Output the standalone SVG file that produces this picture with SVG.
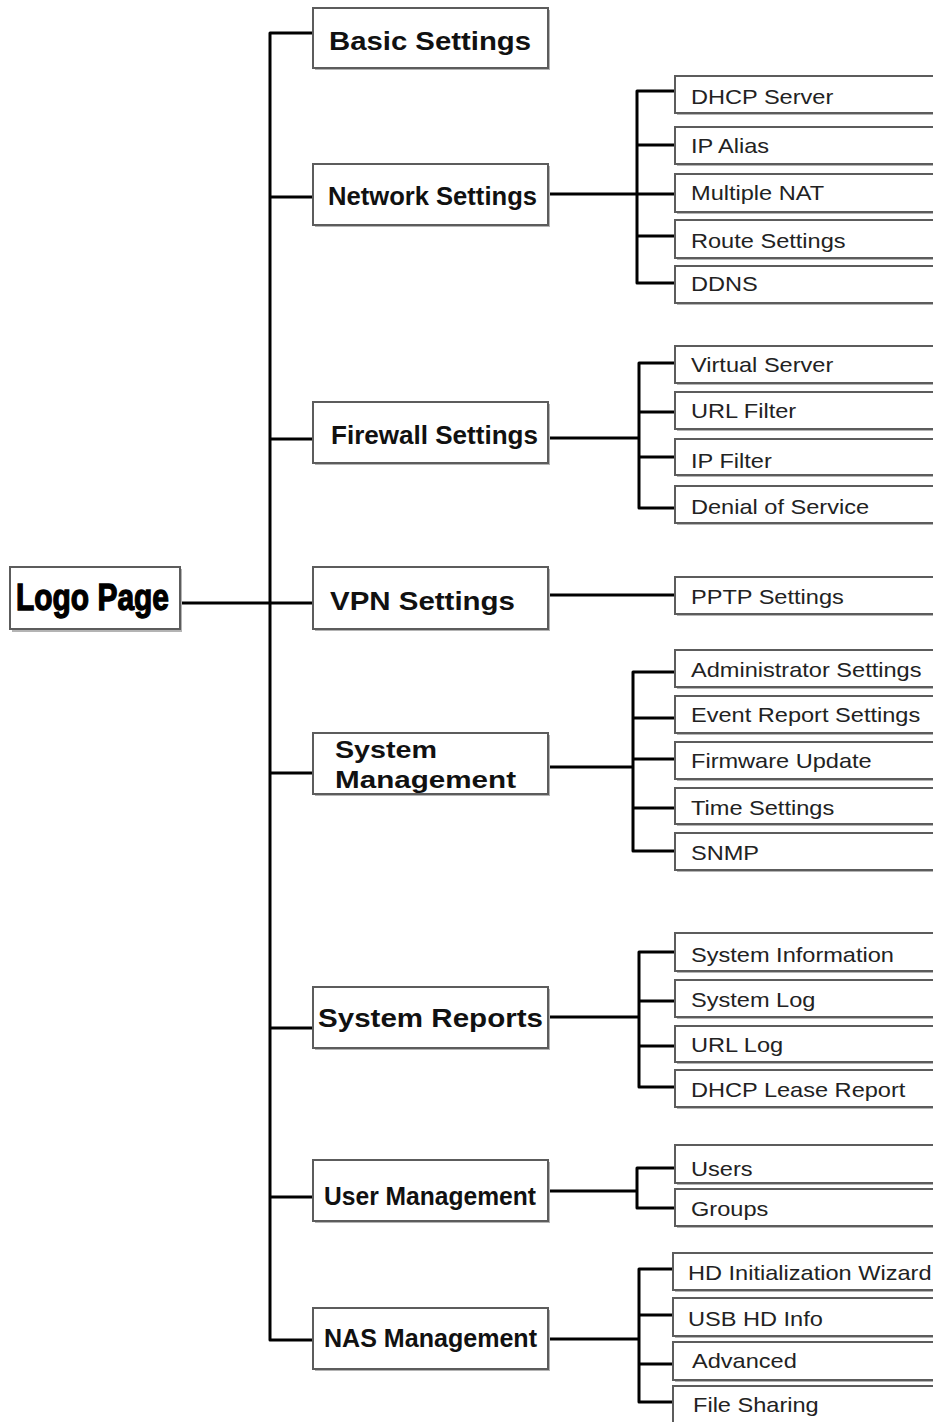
<svg xmlns="http://www.w3.org/2000/svg" width="933" height="1422" viewBox="0 0 933 1422">
<style>
.sh{fill:#b4b4b4}
.bx{fill:#fff;stroke:#5c5c5c;stroke-width:2}
.t1{font-family:"Liberation Sans",Arial,sans-serif;font-weight:bold;font-size:25px;fill:#111}
.t2{font-family:"Liberation Sans",Arial,sans-serif;font-size:20.5px;fill:#222}
.lg{font-family:"Liberation Sans Narrow","Liberation Sans",Arial,sans-serif;font-weight:bold;font-size:37px;fill:#000;stroke:#000;stroke-width:1.3}
.c{fill:none;stroke:#000;stroke-width:3;stroke-linejoin:round}
</style>
<rect width="933" height="1422" fill="#fff"/>
<g id="connectors" class="c">
<path d="M313,33 H270 V1340 H313"/>
<path d="M270,197 H313 M270,439 H313 M270,603 H313 M270,773 H313 M270,1028 H313 M270,1197 H313"/>
<path d="M182,603 H270"/>
<path d="M548,194 H637"/>
<path d="M675,91 H637 V283 H675 M637,145 H675 M637,194 H675 M637,236 H675"/>
<path d="M548,438 H639"/>
<path d="M675,363 H639 V508 H675 M639,412 H675 M639,457 H675"/>
<path d="M548,595 H675"/>
<path d="M548,767 H633"/>
<path d="M675,672 H633 V851 H675 M633,718 H675 M633,759 H675 M633,808 H675"/>
<path d="M548,1017 H639"/>
<path d="M675,952 H639 V1087 H675 M639,1001 H675 M639,1046 H675"/>
<path d="M548,1191 H637"/>
<path d="M675,1168 H637 V1208 H675"/>
<path d="M548,1339 H639"/>
<path d="M673,1269 H639 V1402 H673 M639,1315 H673 M639,1364 H673"/>
</g>
<g id="logo-page"><rect class="sh" x="12" y="569" width="170" height="63"/><rect class="bx" x="10" y="567" width="170" height="62"/><text class="lg" x="16" y="610" textLength="153" lengthAdjust="spacingAndGlyphs">Logo Page</text></g>
<g id="basic-settings"><rect class="sh" x="315" y="10" width="235" height="60"/><rect class="bx" x="313" y="8" width="235" height="60"/><text class="t1" x="329" y="50" textLength="202" lengthAdjust="spacingAndGlyphs">Basic Settings</text></g>
<g id="network-settings"><rect class="sh" x="315" y="166" width="235" height="61"/><rect class="bx" x="313" y="164" width="235" height="61"/><text class="t1" x="328" y="205" textLength="209" lengthAdjust="spacingAndGlyphs" style="font-size:26px">Network Settings</text></g>
<g id="firewall-settings"><rect class="sh" x="315" y="404" width="235" height="61"/><rect class="bx" x="313" y="402" width="235" height="61"/><text class="t1" x="331" y="444" textLength="207" lengthAdjust="spacingAndGlyphs" style="font-size:26px">Firewall Settings</text></g>
<g id="vpn-settings"><rect class="sh" x="315" y="569" width="235" height="62"/><rect class="bx" x="313" y="567" width="235" height="62"/><text class="t1" x="330" y="610" textLength="185" lengthAdjust="spacingAndGlyphs">VPN Settings</text></g>
<g id="system-management"><rect class="sh" x="315" y="735" width="235" height="61"/><rect class="bx" x="313" y="733" width="235" height="61"/><text class="t1" x="335" y="758" textLength="102" lengthAdjust="spacingAndGlyphs" style="font-size:24px">System</text><text class="t1" x="335" y="788" textLength="181" lengthAdjust="spacingAndGlyphs" style="font-size:24px">Management</text></g>
<g id="system-reports"><rect class="sh" x="315" y="989" width="235" height="61"/><rect class="bx" x="313" y="987" width="235" height="61"/><text class="t1" x="318" y="1027" textLength="225" lengthAdjust="spacingAndGlyphs">System Reports</text></g>
<g id="user-management"><rect class="sh" x="315" y="1162" width="235" height="61"/><rect class="bx" x="313" y="1160" width="235" height="61"/><text class="t1" x="324" y="1205" textLength="212" lengthAdjust="spacingAndGlyphs" style="font-size:26px">User Management</text></g>
<g id="nas-management"><rect class="sh" x="315" y="1310" width="235" height="61"/><rect class="bx" x="313" y="1308" width="235" height="61"/><text class="t1" x="324" y="1347" textLength="213" lengthAdjust="spacingAndGlyphs" style="font-size:26px">NAS Management</text></g>

<g id="dhcp-server"><rect class="sh" x="677" y="78" width="270" height="37"/><rect class="bx" x="675" y="76" width="270" height="37"/><text class="t2" transform="translate(691,104) scale(1.15 1)">DHCP Server</text></g>
<g id="ip-alias"><rect class="sh" x="677" y="129" width="270" height="37"/><rect class="bx" x="675" y="127" width="270" height="37"/><text class="t2" transform="translate(691,153) scale(1.15 1)">IP Alias</text></g>
<g id="multiple-nat"><rect class="sh" x="677" y="176" width="270" height="38"/><rect class="bx" x="675" y="174" width="270" height="38"/><text class="t2" transform="translate(691,200) scale(1.15 1)">Multiple NAT</text></g>
<g id="route-settings"><rect class="sh" x="677" y="222" width="270" height="38"/><rect class="bx" x="675" y="220" width="270" height="38"/><text class="t2" transform="translate(691,248) scale(1.15 1)">Route Settings</text></g>
<g id="ddns"><rect class="sh" x="677" y="268" width="270" height="37"/><rect class="bx" x="675" y="266" width="270" height="37"/><text class="t2" transform="translate(691,291) scale(1.15 1)">DDNS</text></g>

<g id="virtual-server"><rect class="sh" x="677" y="348" width="270" height="37"/><rect class="bx" x="675" y="346" width="270" height="37"/><text class="t2" transform="translate(691,372) scale(1.15 1)">Virtual Server</text></g>
<g id="url-filter"><rect class="sh" x="677" y="394" width="270" height="37"/><rect class="bx" x="675" y="392" width="270" height="37"/><text class="t2" transform="translate(691,418) scale(1.15 1)">URL Filter</text></g>
<g id="ip-filter"><rect class="sh" x="677" y="441" width="270" height="36"/><rect class="bx" x="675" y="439" width="270" height="36"/><text class="t2" transform="translate(691,468) scale(1.15 1)">IP Filter</text></g>
<g id="denial-of-service"><rect class="sh" x="677" y="488" width="270" height="37"/><rect class="bx" x="675" y="486" width="270" height="37"/><text class="t2" transform="translate(691,514) scale(1.15 1)">Denial of Service</text></g>

<g id="pptp-settings"><rect class="sh" x="677" y="579" width="270" height="37"/><rect class="bx" x="675" y="577" width="270" height="37"/><text class="t2" transform="translate(691,604) scale(1.15 1)">PPTP Settings</text></g>

<g id="administrator-settings"><rect class="sh" x="677" y="652" width="270" height="37"/><rect class="bx" x="675" y="650" width="270" height="37"/><text class="t2" transform="translate(691,677) scale(1.15 1)">Administrator Settings</text></g>
<g id="event-report-settings"><rect class="sh" x="677" y="698" width="270" height="37"/><rect class="bx" x="675" y="696" width="270" height="37"/><text class="t2" transform="translate(691,722) scale(1.15 1)">Event Report Settings</text></g>
<g id="firmware-update"><rect class="sh" x="677" y="744" width="270" height="37"/><rect class="bx" x="675" y="742" width="270" height="37"/><text class="t2" transform="translate(691,768) scale(1.15 1)">Firmware Update</text></g>
<g id="time-settings"><rect class="sh" x="677" y="790" width="270" height="36"/><rect class="bx" x="675" y="788" width="270" height="36"/><text class="t2" transform="translate(691,815) scale(1.15 1)">Time Settings</text></g>
<g id="snmp"><rect class="sh" x="677" y="835" width="270" height="37"/><rect class="bx" x="675" y="833" width="270" height="37"/><text class="t2" transform="translate(691,860) scale(1.15 1)">SNMP</text></g>

<g id="system-information"><rect class="sh" x="677" y="935" width="270" height="38"/><rect class="bx" x="675" y="933" width="270" height="38"/><text class="t2" transform="translate(691,962) scale(1.15 1)">System Information</text></g>
<g id="system-log"><rect class="sh" x="677" y="982" width="270" height="37"/><rect class="bx" x="675" y="980" width="270" height="37"/><text class="t2" transform="translate(691,1007) scale(1.15 1)">System Log</text></g>
<g id="url-log"><rect class="sh" x="677" y="1028" width="270" height="36"/><rect class="bx" x="675" y="1026" width="270" height="36"/><text class="t2" transform="translate(691,1052) scale(1.15 1)">URL Log</text></g>
<g id="dhcp-lease-report"><rect class="sh" x="677" y="1072" width="270" height="37"/><rect class="bx" x="675" y="1070" width="270" height="37"/><text class="t2" transform="translate(691,1097) scale(1.15 1)">DHCP Lease Report</text></g>

<g id="users"><rect class="sh" x="677" y="1147" width="270" height="38"/><rect class="bx" x="675" y="1145" width="270" height="38"/><text class="t2" transform="translate(691,1176) scale(1.15 1)">Users</text></g>
<g id="groups"><rect class="sh" x="677" y="1191" width="270" height="37"/><rect class="bx" x="675" y="1189" width="270" height="37"/><text class="t2" transform="translate(691,1216) scale(1.15 1)">Groups</text></g>

<g id="hd-initialization-wizard"><rect class="sh" x="675" y="1255" width="270" height="37"/><rect class="bx" x="673" y="1253" width="270" height="37"/><text class="t2" transform="translate(688,1280) scale(1.15 1)">HD Initialization Wizard</text></g>
<g id="usb-hd-info"><rect class="sh" x="675" y="1300" width="270" height="38"/><rect class="bx" x="673" y="1298" width="270" height="38"/><text class="t2" transform="translate(688,1326) scale(1.15 1)">USB HD Info</text></g>
<g id="advanced"><rect class="sh" x="675" y="1344" width="270" height="38"/><rect class="bx" x="673" y="1342" width="270" height="38"/><text class="t2" transform="translate(692,1368) scale(1.15 1)">Advanced</text></g>
<g id="file-sharing"><rect class="sh" x="675" y="1388" width="270" height="38"/><rect class="bx" x="673" y="1386" width="270" height="38"/><text class="t2" transform="translate(693,1412) scale(1.15 1)">File Sharing</text></g>
</svg>
